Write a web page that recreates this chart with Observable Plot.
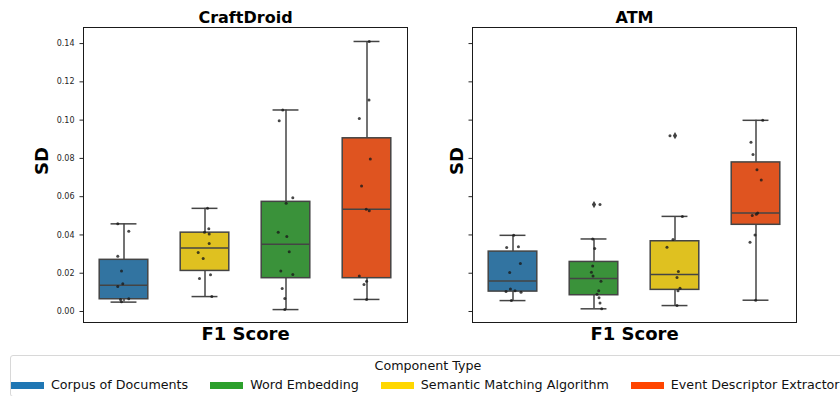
<!DOCTYPE html>
<html>
<head>
<meta charset="utf-8">
<script src="https://cdn.jsdelivr.net/npm/d3@7"></script>
<script src="https://cdn.jsdelivr.net/npm/@observablehq/plot@0.6"></script>
<style>
  body { margin: 0; background: #fff; font-family: "DejaVu Sans", sans-serif; }
  #wrap { position: relative; width: 840px; height: 396px; overflow: hidden; background: #fff; }
  #plots { display: flex; position: absolute; left: 0; top: 0; }
  #legend { position: absolute; left: 10px; top: 355px; width: 836px; height: 42px; border: 1px solid #d8d8d8; border-radius: 3px; box-sizing: border-box; color: #111; font-size: 12.7px; background: #fff; }
  #legend .ltitle { position: absolute; left: 0; right: 0; top: 3px; line-height: 14px; text-align: center; }
  #legend .litems { position: absolute; left: 0; top: 22px; display: flex; white-space: nowrap; line-height: 14px; }
  #legend .item { display: flex; align-items: center; margin-right: 22px; }
  #legend .sw { display: inline-block; width: 33px; height: 7px; margin-right: 7px; }
</style>
</head>
<body>
<div id="wrap">
  <div id="plots"></div>
  <div id="legend"></div>
</div>
<script>
// ---------- data ----------
const componentTypes = ["Corpus of Documents", "Word Embedding", "Semantic Matching Algorithm", "Event Descriptor Extractor"];
const legendColors = ["#1f77b4", "#2ca02c", "#FFD700", "#FF4500"];
const boxColors = ["#3274a1", "#3a923a", "#dfc120", "#df5420"];
const legendTitle = "Component Type";
const yTicks = [0, 0.02, 0.04, 0.06, 0.08, 0.10, 0.12, 0.14];

// CraftDroid
const craftOrder = ["Corpus of Documents", "Semantic Matching Algorithm", "Word Embedding", "Event Descriptor Extractor"];
const craftQ1 = [0.0064, 0.0212, 0.0174, 0.0174];
const craftMedian = [0.0137, 0.0332, 0.0351, 0.0534];
const craftQ3 = [0.0270, 0.0412, 0.0573, 0.0905];
const craftLow = [0.0049, 0.0078, 0.0010, 0.0063];
const craftHigh = [0.0458, 0.0539, 0.1053, 0.1411];
const craftPoints = [
  [0.0458, 0.0419, 0.0289, 0.0212, 0.0145, 0.0130, 0.0063, 0.0066, 0.0051],
  [0.0539, 0.0432, 0.0414, 0.0405, 0.0355, 0.0308, 0.0277, 0.0192, 0.0172, 0.0078],
  [0.1053, 0.0997, 0.0594, 0.0565, 0.0414, 0.0392, 0.0312, 0.0212, 0.0193, 0.0120, 0.0068, 0.0010],
  [0.1411, 0.1105, 0.1009, 0.0797, 0.0656, 0.0534, 0.0526, 0.0186, 0.0158, 0.0141, 0.0063]
];
const craftJitter = [
  [-0.077, 0.059, -0.077, -0.031, -0.015, -0.077, -0.043, 0.059, -0.031],
  [0.031, 0.047, -0.006, 0.052, 0.052, -0.084, -0.022, 0.068, -0.068, 0.084],
  [-0.040, -0.084, 0.084, 0.002, -0.096, 0.010, 0.040, -0.064, 0.084, -0.047, -0.015, -0.015],
  [0.028, 0.025, -0.095, 0.041, -0.067, -0.009, 0.028, -0.095, -0.005, -0.037, -0.005]
];
const craftOutlierType = [];
const craftOutlierSD = [];

// ATM
const atmOrder = ["Corpus of Documents", "Word Embedding", "Semantic Matching Algorithm", "Event Descriptor Extractor"];
const atmQ1 = [0.0104, 0.0085, 0.0113, 0.0453];
const atmMedian = [0.0160, 0.0172, 0.0193, 0.0515];
const atmQ3 = [0.0313, 0.0259, 0.0367, 0.0779];
const atmLow = [0.0057, 0.0014, 0.0031, 0.0059];
const atmHigh = [0.0398, 0.0379, 0.0497, 0.0999];
const atmPoints = [
  [0.0398, 0.0334, 0.0338, 0.0251, 0.0204, 0.0117, 0.0104, 0.0108, 0.0101, 0.0057],
  [0.0559, 0.0379, 0.0329, 0.0238, 0.0205, 0.0186, 0.0158, 0.0108, 0.0090, 0.0072, 0.0045, 0.0014],
  [0.0919, 0.0497, 0.0376, 0.0336, 0.0209, 0.0177, 0.0122, 0.0108, 0.0031],
  [0.0999, 0.0884, 0.0820, 0.0741, 0.0687, 0.0515, 0.0508, 0.0501, 0.0400, 0.0362, 0.0059]
];
const atmJitter = [
  [0.009, -0.078, 0.067, 0.091, -0.041, -0.032, -0.086, 0.025, 0.099, -0.020],
  [0.074, -0.016, 0.009, -0.016, -0.032, -0.012, 0.086, 0.058, 0.037, 0.062, 0.074, 0.095],
  [-0.062, 0.091, -0.025, -0.099, 0.042, 0.025, 0.062, 0.037, 0.025],
  [0.083, -0.062, -0.037, 0.012, 0.065, 0.021, 0.004, -0.046, -0.012, -0.074, -0.004]
];
const atmOutlierType = ["Word Embedding", "Semantic Matching Algorithm"];
const atmOutlierSD = [0.0559, 0.0919];

// ---------- drawing ----------
const lineColor = "#444444";
const yDomain = [-0.00575, 0.1484];

function panel(cfg) {
  const idx = d3.range(cfg.order.length);
  const boxes = idx.map(i => ({i, type: cfg.order[i], q1: cfg.q1[i], med: cfg.median[i], q3: cfg.q3[i], lo: cfg.low[i], hi: cfg.high[i]}));
  const pts = idx.flatMap(i => cfg.points[i].map((v, k) => ({x: i + cfg.jitter[i][k], y: v})));
  const outs = cfg.outType.map((t, k) => ({i: cfg.order.indexOf(t), y: cfg.outSD[k]}));
  return Plot.plot({
    width: 420, height: 345,
    marginLeft: cfg.marginLeft, marginRight: cfg.marginRight, marginTop: 27, marginBottom: 23,
    x: {domain: [-0.5, cfg.order.length - 0.5], axis: null},
    y: {domain: yDomain},
    color: {domain: componentTypes, range: boxColors},
    style: {fontFamily: "DejaVu Sans", color: "#262626", background: "white", overflow: "visible"},
    marks: [
      Plot.axisY(yTicks, {anchor: "left", tickFormat: cfg.showLabels ? d3.format(".2f") : () => "", tickSize: 3.5, tickPadding: 5.5, fontSize: 8, label: null}),
      Plot.ruleX(boxes, {x: "i", y1: "lo", y2: "q1", stroke: lineColor, strokeWidth: 1.5}),
      Plot.ruleX(boxes, {x: "i", y1: "q3", y2: "hi", stroke: lineColor, strokeWidth: 1.5}),
      Plot.ruleY(boxes, {y: "hi", x1: d => d.i - 0.16, x2: d => d.i + 0.16, stroke: lineColor, strokeWidth: 1.5}),
      Plot.ruleY(boxes, {y: "lo", x1: d => d.i - 0.16, x2: d => d.i + 0.16, stroke: lineColor, strokeWidth: 1.5}),
      Plot.rect(boxes, {x1: d => d.i - 0.3, x2: d => d.i + 0.3, y1: "q1", y2: "q3", fill: "type", stroke: lineColor, strokeWidth: 1.5}),
      Plot.ruleY(boxes, {y: "med", x1: d => d.i - 0.3, x2: d => d.i + 0.3, stroke: lineColor, strokeWidth: 1.5}),
      Plot.dot(outs, {x: "i", y: "y", symbol: "diamond", r: 2.2, fill: "#3f3f3f", stroke: "none"}),
      Plot.dot(pts, {x: "x", y: "y", r: 1.5, fill: "#1a1a1a", fillOpacity: 0.8, stroke: "none"}),
      Plot.frame({stroke: "#1a1a1a", strokeWidth: 1}),
      Plot.text([cfg.title], {text: d => d, frameAnchor: "top", lineAnchor: "bottom", dy: -5, fontSize: 16, fontWeight: "bold", fill: "#000"}),
      Plot.text(["SD"], {text: d => d, frameAnchor: "left", rotate: -90, dx: cfg.sdDx, fontSize: 18, fontWeight: "bold", fill: "#000"}),
      Plot.text(["F1 Score"], {text: d => d, frameAnchor: "bottom", lineAnchor: "top", dy: 5, fontSize: 18, fontWeight: "bold", fill: "#000"})
    ]
  });
}

const plots = document.getElementById("plots");
plots.appendChild(panel({
  title: "CraftDroid", order: craftOrder, q1: craftQ1, median: craftMedian, q3: craftQ3, low: craftLow, high: craftHigh,
  points: craftPoints, jitter: craftJitter, outType: craftOutlierType, outSD: craftOutlierSD,
  marginLeft: 83, marginRight: 13, showLabels: true, sdDx: -41
}));
plots.appendChild(panel({
  title: "ATM", order: atmOrder, q1: atmQ1, median: atmMedian, q3: atmQ3, low: atmLow, high: atmHigh,
  points: atmPoints, jitter: atmJitter, outType: atmOutlierType, outSD: atmOutlierSD,
  marginLeft: 52, marginRight: 44, showLabels: false, sdDx: -15
}));

// legend
const legend = document.getElementById("legend");
const lt = document.createElement("div");
lt.className = "ltitle";
lt.textContent = legendTitle;
legend.appendChild(lt);
const items = document.createElement("div");
items.className = "litems";
componentTypes.forEach((t, k) => {
  const it = document.createElement("div");
  it.className = "item";
  const sw = document.createElement("span");
  sw.className = "sw";
  sw.style.background = legendColors[k];
  const lb = document.createElement("span");
  lb.textContent = t;
  it.appendChild(sw);
  it.appendChild(lb);
  items.appendChild(it);
});
legend.appendChild(items);
</script>
</body>
</html>
